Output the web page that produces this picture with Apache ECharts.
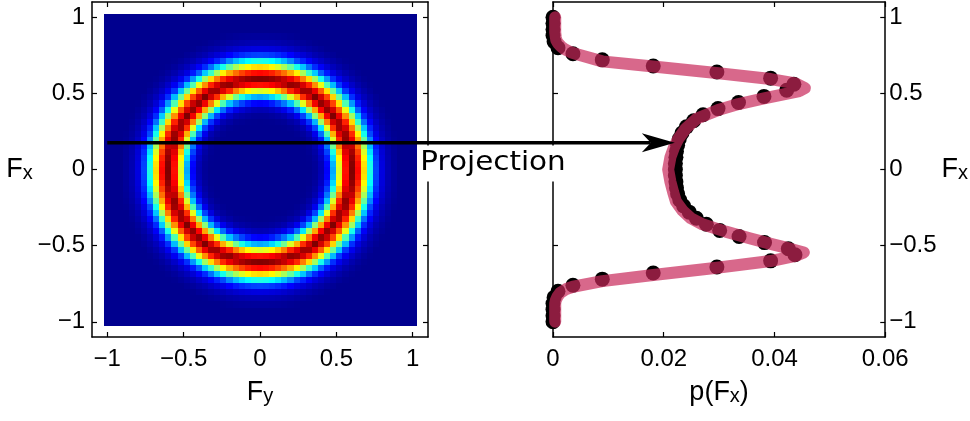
<!DOCTYPE html>
<html><head><meta charset="utf-8">
<script src="https://cdn.jsdelivr.net/npm/echarts@6/dist/echarts.min.js"></script>
<style>html,body{margin:0;padding:0;background:#fff}#c{width:970px;height:421px}</style>
</head><body><div id="c"></div>
<script>
// ---- data ----
const binCenters = [-1,-0.96,-0.92,-0.88,-0.84,-0.8,-0.76,-0.72,-0.68,-0.64,-0.6,-0.56,-0.52,-0.48,-0.44,-0.4,-0.36,-0.32,-0.28,-0.24,-0.2,-0.16,-0.12,-0.08,-0.04,0,0.04,0.08,0.12,0.16,0.2,0.24,0.28,0.32,0.36,0.4,0.44,0.48,0.52,0.56,0.6,0.64,0.68,0.72,0.76,0.8,0.84,0.88,0.92,0.96,1];
// radial intensity profile of the ring (normalised, read along F_x = 0)
const ringRadius = [0.00, 0.32, 0.36, 0.40, 0.44, 0.48, 0.52, 0.56, 0.60, 0.64, 0.68, 0.72, 0.76, 0.80, 0.84, 0.88, 0.92, 1.50];
const ringLevel  = [0,    0,    0.01, 0.04, 0.12, 0.29, 0.59, 0.86, 1.00, 0.87, 0.66, 0.40, 0.19, 0.09, 0.04, 0.015, 0,   0];
// histogram p(F_x) (black dots)
const histFx = binCenters;
const histP = [0,0,0,0,0.0002,0.0009,0.0036,0.0089,0.0181,0.0296,0.0393,0.0437,0.0425,0.0382,0.0336,0.0301,0.0277,0.0259,0.0246,0.0236,0.0229,0.0225,0.0223,0.0222,0.0221,0.0221,0.0221,0.0222,0.0223,0.0225,0.0228,0.0233,0.0241,0.0254,0.0271,0.0298,0.0335,0.0381,0.0422,0.0435,0.0393,0.0296,0.0181,0.0089,0.0036,0.0009,0.0002,0,0,0,0];
// theoretical curve (pink), traced from top to bottom
const fitFx = [1.00,0.95,0.90,0.87,0.85,0.83,0.81,0.79,0.77,0.755,0.71,0.677,0.634,0.594,0.565,0.535,0.515,0.467,0.43,0.39,0.335,0.27,0.20,0.15,0.08,0.00,-0.08,-0.15,-0.21,-0.27,-0.32,-0.36,-0.408,-0.452,-0.49,-0.52,-0.545,-0.565,-0.601,-0.645,-0.693,-0.733,-0.77,-0.785,-0.81,-0.836,-0.86,-0.88,-0.92,-0.96,-1.00];
const fitP  = [0.0004,0.0004,0.0004,0.0005,0.0006,0.0009,0.0014,0.0021,0.0032,0.0045,0.0089,0.0181,0.0295,0.0393,0.0438,0.0455,0.0445,0.0381,0.0335,0.0298,0.0260,0.0240,0.0226,0.0219,0.0212,0.0208,0.0212,0.0217,0.0222,0.0234,0.0249,0.0270,0.0312,0.0355,0.0395,0.0428,0.0453,0.0440,0.0393,0.0296,0.0181,0.0089,0.0036,0.0024,0.0013,0.0008,0.0005,0.0004,0.0004,0.0004,0.0004];
const squareTicks = [-1, -0.5, 0, 0.5, 1];
const pTicks = [0, 0.02, 0.04, 0.06];
const arrowFx = 0.175, arrowStartFy = -1, arrowEndP = 0.0220;
const projLabelAt = [1.035, 0.04];
const jetColors = ['#00008F','#0000FF','#0080FF','#00FFFF','#80FF80','#FFFF00','#FF8000','#FF0000','#800000'];

// ---- build ----
function ringAt(r) {
  for (let i = 1; i < ringRadius.length; i++) {
    if (r <= ringRadius[i]) {
      const t = (r - ringRadius[i-1]) / (ringRadius[i] - ringRadius[i-1]);
      return ringLevel[i-1] + t * (ringLevel[i] - ringLevel[i-1]);
    }
  }
  return 0;
}
const cells = [];
binCenters.forEach(fy => binCenters.forEach(fx => cells.push([fy, fx, ringAt(Math.hypot(fy, fx))])));
const half = (binCenters[1] - binCenters[0]) / 2;
const dots = histFx.map((f, i) => [histP[i], f]);
const fit = fitFx.map((f, i) => [fitP[i], f]);

const FONT = 'Liberation Sans, Arial, Helvetica, sans-serif';
const fmt = v => (v < 0 ? '\u2212' + String(-v) : String(v));
const lineStyle = {color: '#000', width: 1.5};
const nameRich = {
  a: {fontSize: 27, lineHeight: 27, fontFamily: FONT, color: '#000'},
  b: {fontSize: 20, lineHeight: 14, verticalAlign: 'bottom', fontFamily: FONT, color: '#000'}
};
function axis(grid, pos, min, max, ticks, labels, extra) {
  return Object.assign({
    type: 'value', gridIndex: grid, position: pos, min: min, max: max,
    axisLine: {show: true, onZero: false, lineStyle: lineStyle},
    axisTick: {show: true, inside: true, length: 5, customValues: ticks, lineStyle: {color: '#000', width: 1.2}},
    axisLabel: {show: labels, customValues: ticks, formatter: fmt, color: '#000', fontSize: 24, fontFamily: FONT, margin: (pos === 'left' ? 7 : pos === 'right' ? 4 : 10)},
    splitLine: {show: false}
  }, extra || {});
}

const chart = echarts.init(document.getElementById('c'), null, {renderer: 'canvas'});
chart.setOption({
  animation: false,
  backgroundColor: '#fff',
  grid: [
    {left: 92, top: 2, width: 336, height: 335},
    {left: 553, top: 2, width: 336, height: 335}
  ],
  xAxis: [
    axis(0, 'bottom', -1.1, 1.1, squareTicks, true, {name: '{a|F}{b|y}', nameLocation: 'middle', nameGap: 42, nameTextStyle: {rich: nameRich}}),
    axis(0, 'top', -1.1, 1.1, squareTicks, false),
    axis(1, 'bottom', 0, 0.06, pTicks, true, {name: '{a|p(F}{b|x}{a|)}', nameLocation: 'middle', nameGap: 42, nameTextStyle: {rich: nameRich}}),
    axis(1, 'top', 0, 0.06, pTicks, false)
  ],
  yAxis: [
    axis(0, 'left', -1.1, 1.1, squareTicks, true, {name: '{a|F}{b|x}', nameLocation: 'middle', nameRotate: 0, nameGap: 55, nameTextStyle: {rich: nameRich}}),
    axis(0, 'right', -1.1, 1.1, squareTicks, false),
    axis(1, 'right', -1.1, 1.1, squareTicks, true, {name: '{a|F}{b|x}', nameLocation: 'middle', nameRotate: 0, nameGap: 49, nameTextStyle: {rich: nameRich}}),
    axis(1, 'left', -1.1, 1.1, squareTicks, false)
  ],
  visualMap: {type: 'continuous', show: false, min: 0, max: 1, dimension: 2, seriesIndex: 0, inRange: {color: jetColors}},
  series: [
    {
      type: 'custom', xAxisIndex: 0, yAxisIndex: 0, data: cells, silent: true,
      encode: {x: 0, y: 1},
      renderItem: function (params, api) {
        const x = api.value(0), y = api.value(1);
        const p0 = api.coord([x - half, y + half]);
        const p1 = api.coord([x + half, y - half]);
        const x0 = Math.round(p0[0]), y0 = Math.round(p0[1]);
        const x1 = Math.round(p1[0]), y1 = Math.round(p1[1]);
        return {type: 'rect', shape: {x: x0, y: y0, width: x1 - x0 + 1, height: y1 - y0 + 1},
                style: {fill: api.visual('color')}};
      }
    },
    {
      type: 'scatter', xAxisIndex: 2, yAxisIndex: 2, data: dots, symbol: 'circle', symbolSize: 15,
      itemStyle: {color: '#000', opacity: 1}, clip: false, silent: true, z: 2
    },
    {
      type: 'line', xAxisIndex: 2, yAxisIndex: 2, data: fit, showSymbol: false, symbol: 'none', clip: false, silent: true, z: 3,
      lineStyle: {color: 'rgba(200,40,90,0.7)', width: 12, cap: 'round', join: 'round'}
    }
  ]
});

const a = chart.convertToPixel({xAxisIndex: 0, yAxisIndex: 0}, [arrowStartFy, arrowFx]);
const b = chart.convertToPixel({xAxisIndex: 2, yAxisIndex: 2}, [arrowEndP, arrowFx]);
const t = chart.convertToPixel({xAxisIndex: 0, yAxisIndex: 0}, projLabelAt);
chart.setOption({
  graphic: [
    {type: 'text', x: t[0], y: t[1], scaleX: 1.11, z: 100,
     style: {text: 'Projection', font: '26.5px "DejaVu Sans"', fill: '#000', align: 'left', verticalAlign: 'middle',
             backgroundColor: '#fff', padding: [3, 2, 6, 2]}},
    {type: 'line', z: 101, shape: {x1: a[0], y1: a[1], x2: b[0] - 24, y2: b[1]}, style: {stroke: '#000', lineWidth: 3.5}},
    {type: 'polygon', z: 101, shape: {points: [[b[0], b[1]], [b[0] - 33, b[1] - 9.5], [b[0] - 24, b[1]], [b[0] - 33, b[1] + 9.5]]},
     style: {fill: '#000'}}
  ]
});
</script>
</body></html>
